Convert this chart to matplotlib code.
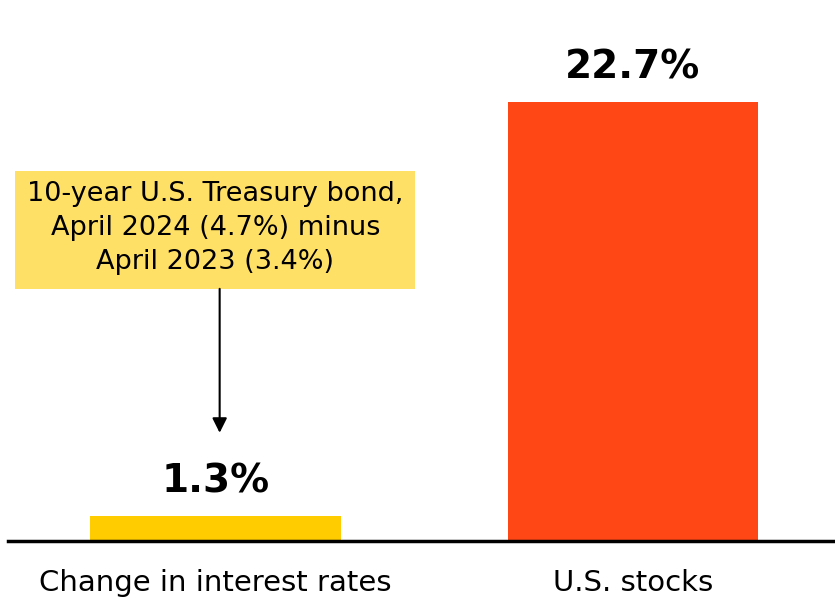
import matplotlib.pyplot as plt
from matplotlib.patches import Rectangle

categories = ["Change in interest rates", "U.S. stocks"]
values = [1.3, 22.7]
value_labels = ["1.3%", "22.7%"]
colors = ["#FFCC00", "#FF4715"]
note = "10-year U.S. Treasury bond,\nApril 2024 (4.7%) minus\nApril 2023 (3.4%)"

plt.rcParams['font.family'] = ['DejaVu Sans']

fig = plt.figure(figsize=(8.35, 6.0), dpi=100)
ax = fig.add_axes([8 / 835, 59 / 600, 827 / 835, 541 / 600])

x = range(len(categories))
bars = ax.bar(x, values, width=0.6, color=colors)

for b, lab in zip(bars, value_labels):
    ax.annotate(lab, (b.get_x() + b.get_width() / 2, b.get_height()),
                xytext=(0, 25), textcoords="offset points",
                ha="center", va="center", fontsize=28, fontweight="bold")

ax.set_xlim(-0.497, 1.484)
ax.set_ylim(0, 28.0)

# callout box + arrow
ax.add_patch(Rectangle((-0.48, 13.05), 0.958, 6.1, facecolor="#FFE066",
                       edgecolor="none", zorder=1))
ax.text(0.0, 16.2, note, ha="center", va="center", fontsize=19.5,
        linespacing=1.42, zorder=2)
ax.annotate("", xy=(0.01, 5.6), xytext=(0.01, 13.05),
            arrowprops=dict(arrowstyle="-|>", color="black", lw=1.5,
                            mutation_scale=22, shrinkA=0, shrinkB=0))

ax.set_xticks(list(x))
ax.set_xticklabels(categories, fontsize=21)
ax.tick_params(axis="x", length=0, pad=20)
ax.set_yticks([])
for s in ["top", "right", "left"]:
    ax.spines[s].set_visible(False)
ax.spines["bottom"].set_linewidth(2.5)

fig.savefig("out.png", dpi=100)
